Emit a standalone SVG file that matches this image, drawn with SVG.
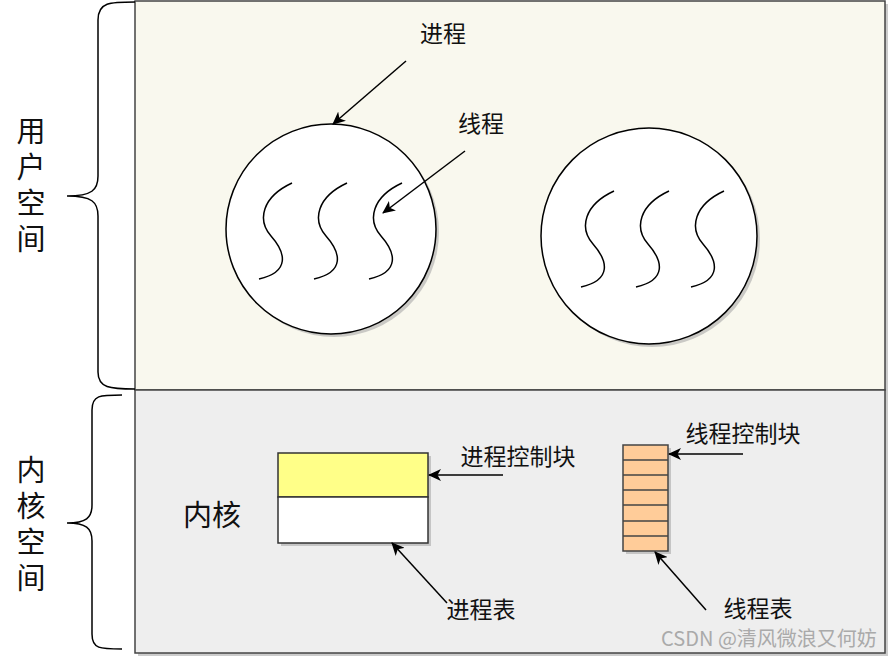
<svg xmlns="http://www.w3.org/2000/svg" width="890" height="659" viewBox="0 0 890 659">
<defs>
<style>
.t{font-family:"Noto Sans CJK SC","Noto Sans",sans-serif;fill:#111;}
.big{font-size:29px;}
.vert{font-size:29px;writing-mode:vertical-rl;letter-spacing:7px;}
.lbl{font-size:23px;}
.ln{fill:none;stroke:#000;stroke-width:1.5;}
.sh{fill:#aaa;opacity:0.6;}
.wave{fill:none;stroke:#000;stroke-width:1.5;}
</style>
<marker id="ah" markerWidth="14" markerHeight="12" refX="12" refY="6" orient="auto" markerUnits="userSpaceOnUse">
<path d="M0,0 L13,6 L0,12 L3.5,6 Z" fill="#000"/>
</marker>
<path id="s" d="M292,183 C262,197 257,220 271,236 C286,253 290,272 259,279"/>
</defs>
<rect width="890" height="659" fill="#fff"/>

<g id="user-space">
<rect class="sh" x="138" y="4" width="750" height="389"/>
<rect x="135" y="1" width="750" height="389" fill="#f9f8ee" stroke="#444" stroke-width="1.5"/>
</g>
<g id="kernel-space">
<rect class="sh" x="138" y="393" width="750" height="263"/>
<rect x="135" y="390" width="750" height="263" fill="#eeeeee" stroke="#444" stroke-width="1.5"/>
</g>

<g id="brace-user">
<path class="ln" d="M135,2 C110,2 98,2 98,20 L98,176 C98,190 92,196 67,196 C92,196 98,202 98,216 L98,372 C98,388 110,389 135,389"/>
<text class="t vert" x="31" y="116">用户空间</text>
</g>
<g id="brace-kernel">
<path class="ln" d="M122,395 C100,395 92,395 92,410 L92,505 C92,518 86,523 67,523 C86,523 92,528 92,541 L92,634 C92,649 100,649 122,649"/>
<text class="t vert" x="31" y="455">内核空间</text>
</g>

<g id="process1">
<circle class="sh" cx="334" cy="232" r="105"/>
<circle cx="331" cy="229" r="105" fill="#fff" stroke="#000" stroke-width="1.5"/>
<use href="#s" class="wave"/>
<use href="#s" class="wave" x="55"/>
<use href="#s" class="wave" x="110"/>
</g>
<g id="process2">
<circle class="sh" cx="652" cy="239" r="108"/>
<circle cx="649" cy="236" r="108" fill="#fff" stroke="#000" stroke-width="1.5"/>
<use href="#s" class="wave" x="322" y="8"/>
<use href="#s" class="wave" x="377" y="8"/>
<use href="#s" class="wave" x="432" y="8"/>
</g>

<g id="label-process"><text class="t lbl" x="443" y="42" text-anchor="middle">进程</text></g>
<g id="label-thread"><text class="t lbl" x="481" y="132" text-anchor="middle">线程</text></g>

<g id="kernel-label"><text class="t big" x="212" y="526" text-anchor="middle">内核</text></g>

<g id="process-table">
<rect class="sh" x="281" y="456" width="150" height="90"/>
<rect x="278" y="453" width="150" height="44" fill="#ffff88" stroke="#333" stroke-width="1.5"/>
<rect x="278" y="497" width="150" height="46" fill="#fff" stroke="#333" stroke-width="1.5"/>
</g>
<g id="label-pcb"><text class="t lbl" x="518" y="465" text-anchor="middle">进程控制块</text></g>
<g id="label-ptable"><text class="t lbl" x="481" y="618" text-anchor="middle">进程表</text></g>

<g id="thread-table">
<rect class="sh" x="626" y="448" width="45" height="106"/>
<rect x="623" y="445" width="45" height="106" fill="#ffcc99" stroke="#444" stroke-width="1.5"/>
<path d="M623,460 H668 M623,475 H668 M623,490 H668 M623,505 H668 M623,521 H668 M623,536 H668" stroke="#444" stroke-width="1.5"/>
</g>
<g id="label-tcb"><text class="t lbl" x="743" y="442" text-anchor="middle">线程控制块</text></g>
<g id="label-ttable"><text class="t lbl" x="758" y="617" text-anchor="middle">线程表</text></g>

<g id="connectors">
<line class="ln" x1="406" y1="61" x2="333" y2="124" marker-end="url(#ah)"/>
<line class="ln" x1="465" y1="151" x2="383" y2="213" marker-end="url(#ah)"/>
<line class="ln" x1="503" y1="475" x2="429" y2="475" marker-end="url(#ah)"/>
<line class="ln" x1="447" y1="603" x2="392" y2="543" marker-end="url(#ah)"/>
<line class="ln" x1="743" y1="454" x2="669" y2="454" marker-end="url(#ah)"/>
<line class="ln" x1="706" y1="610" x2="655" y2="552" marker-end="url(#ah)"/>
</g>

<text class="t" x="769" y="646" text-anchor="middle" font-size="20" style="fill:#aaa">CSDN @清风微浪又何妨</text>
</svg>
